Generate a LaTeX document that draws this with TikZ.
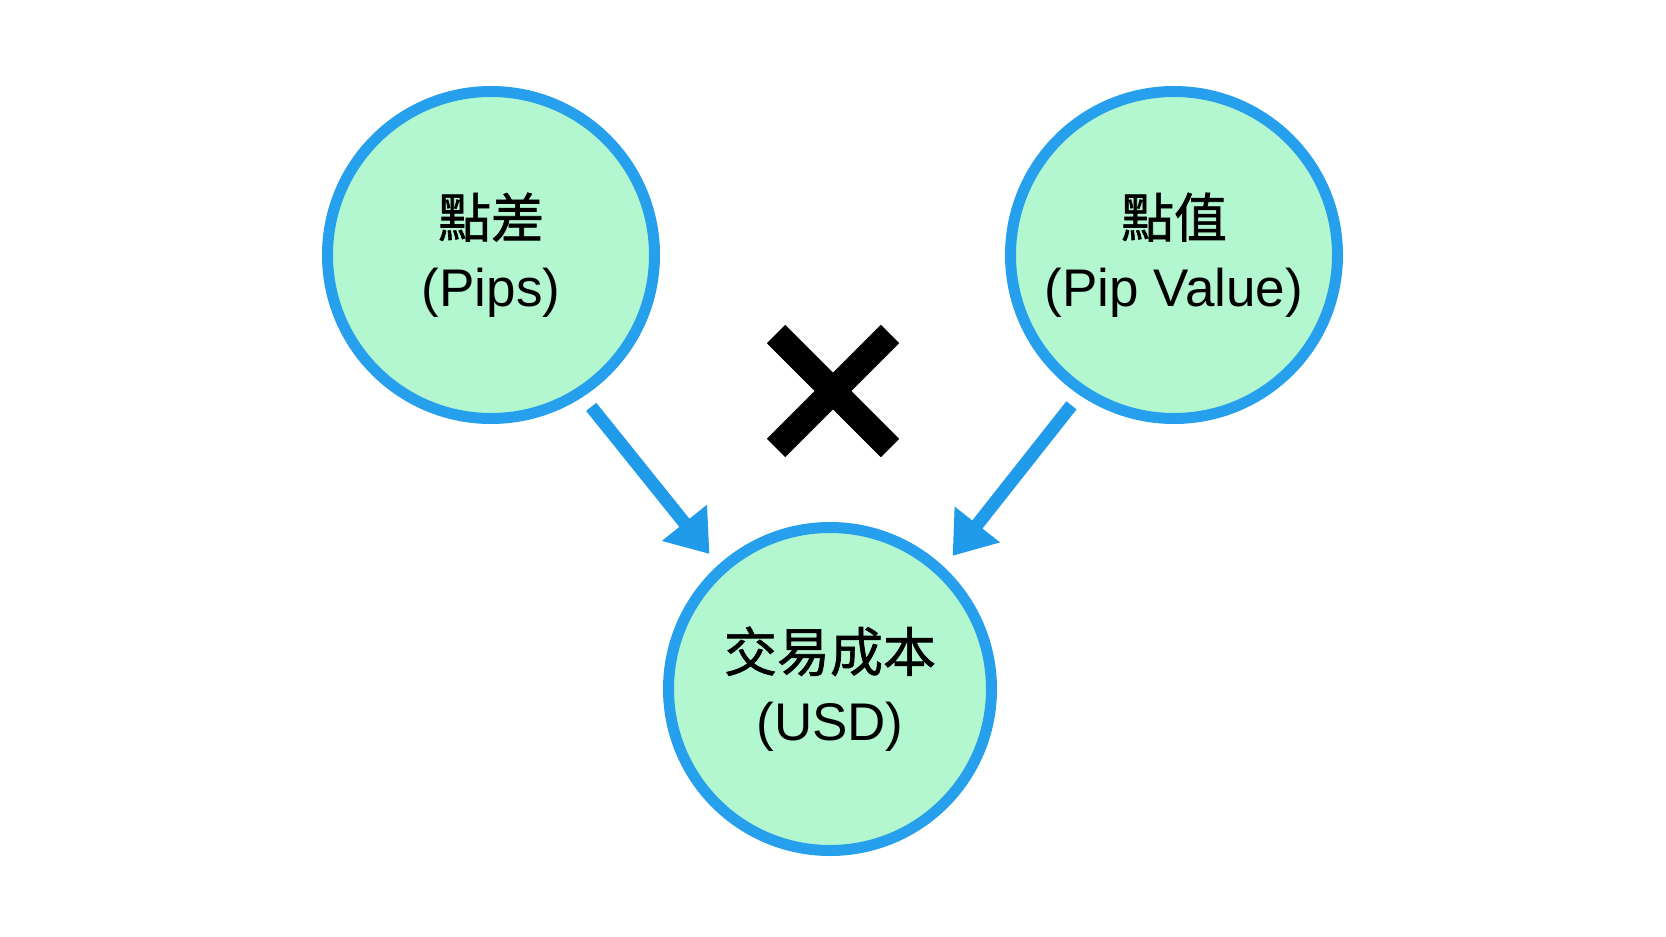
\documentclass[tikz,border=0pt]{standalone}
\usepackage{fontspec}
\setmainfont{Liberation Sans}
\newfontfamily\cjk[FakeBold=1.2]{Noto Sans CJK TC}
\usetikzlibrary{arrows.meta}
\definecolor{mint}{HTML}{B3F7D0}
\definecolor{ringblue}{HTML}{26A0EC}
\definecolor{arrowblue}{HTML}{1F9BE9}
\tikzset{
  bubble/.style={circle, draw=ringblue, fill=mint, line width=11pt, inner sep=0pt,
    minimum size=327pt, align=center, font=\fontsize{53}{69}\selectfont},
  flow/.style={draw=arrowblue, line width=13pt,
    -{Triangle[length=40pt,width=55pt]}, shorten <=13pt, shorten >=14pt},
  timesbar/.style={line width=26pt, line cap=butt, black}
}
\begin{document}
\begin{tikzpicture}[x=1pt,y=-1pt]
\useasboundingbox[fill=white] (0,0) rectangle (1666,937);
\node[bubble] (L) at (491,255) {{\cjk 點差}\\(Pips)};
\node[bubble] (R) at (1174,255) {{\cjk 點值}\\(Pip Value)};
\node[bubble, minimum size=323pt] (B) at (830,689) {{\cjk 交易成本}\\(USD)};
\draw[flow] (L.-57) -- (B.132.5);
\draw[flow] (R.-124) -- (B.47);
\coordinate (X) at (833,391);
\draw[timesbar] ([shift={(-57,-57)}]X) -- ([shift={(57,57)}]X);
\draw[timesbar] ([shift={(-57,57)}]X) -- ([shift={(57,-57)}]X);
\end{tikzpicture}
\end{document}
